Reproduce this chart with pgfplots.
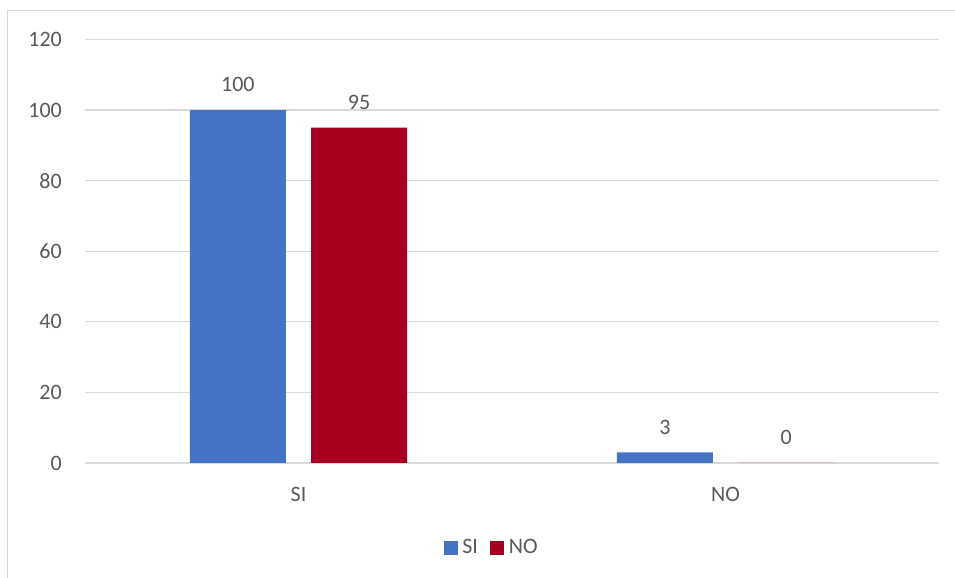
\documentclass[border=0pt]{standalone}
\usepackage{pgfplots}
\pgfplotsset{compat=1.18}
\usepackage{fontspec}
\setmainfont{Carlito}
\definecolor{txt}{HTML}{595959}
\definecolor{gridc}{HTML}{D9D9D9}
\definecolor{cblue}{HTML}{4472C4}
\definecolor{cred}{HTML}{A50021}
\begin{document}
\fontsize{22bp}{26bp}\selectfont
\begin{tikzpicture}[x=1bp,y=1bp]
\path[use as bounding box] (0,0) rectangle (955,578);
\draw[gridc, line width=1.5bp] (7.5,0) -- (7.5,567.5) -- (955,567.5);
\begin{axis}[
  at={(85bp,115bp)}, anchor=south west,
  scale only axis, width=854bp, height=423.5bp,
  xmin=-0.5, xmax=1.5, ymin=0, ymax=120,
  ytick={0,20,...,120},
  xtick={0,1}, xticklabels={SI,NO},
  ymajorgrids, grid style={gridc, line width=1.2bp},
  axis line style={draw=none},
  major tick length=0pt,
  clip=false,
  font=\fontsize{22bp}{26bp}\selectfont,
  tick label style={text=txt},
  yticklabel style={anchor=east, inner sep=0pt, xshift=-23bp},
  xticklabel style={anchor=north, inner sep=0pt, yshift=-24bp},
  /pgf/number format/assume math mode=true,
  ybar, bar width=0.225,
  nodes near coords,
  every node near coord/.append style={text=txt, anchor=south, inner sep=0pt, yshift=18bp},
  legend style={at={(0.4766,-0.1998)}, anchor=center, draw=none, legend columns=2,
    text=txt, font=\fontsize{22bp}{26bp}\selectfont,
    nodes={inner sep=2.5bp},
    /tikz/every odd column/.append style={column sep=2bp},
    /tikz/every even column/.append style={column sep=10bp}},
  legend image code/.code={\fill[#1] (0bp,-7bp) rectangle (14bp,7bp);},
]
\addplot[fill=cblue, draw=none, bar shift=-0.142] coordinates {(0,100) (1,3)};
\addplot[fill=cred, draw=none, bar shift=0.142] coordinates {(0,95) (1,0)};
\legend{SI,NO}
\end{axis}
\end{tikzpicture}
\end{document}
